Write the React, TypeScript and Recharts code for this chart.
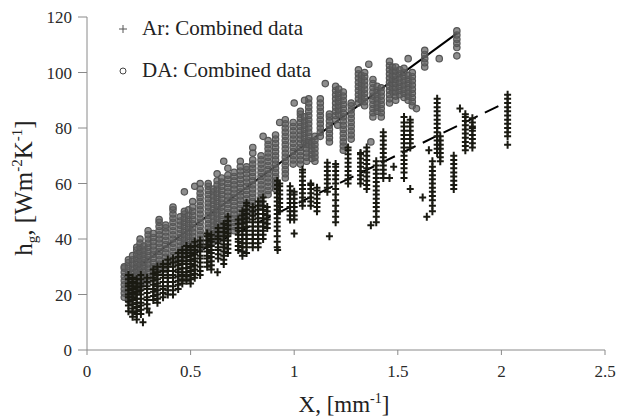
import { ReferenceLine, Scatter, ScatterChart, XAxis, YAxis } from "recharts";

const xTicks = [0, 0.5, 1, 1.5, 2, 2.5];
const yTicks = [0, 20, 40, 60, 80, 100, 120];

// Ar: each column is [x, y values]
const arColumns: Array<[number, number[]]> = [
  [0.2, [14, 16, 17.5, 19, 20, 21.5, 23, 24, 25.5, 27]],
  [0.22, [12, 13.5, 15, 16.5, 18, 19, 20.5, 22, 23, 24.5, 26]],
  [0.24, [11, 13, 14, 15.5, 17, 18.5, 20, 21, 22.5, 24, 25.5]],
  [0.26, [13, 14.5, 16, 17, 18.5, 20, 21.5, 23, 24, 25.5, 27]],
  [0.29, [15, 16.5, 18, 19, 20.5, 22, 23, 24.5, 26]],
  [0.32, [18, 19.5, 21, 22, 23.5, 25, 26, 27.5, 29]],
  [0.34, [17, 18.5, 20, 21.5, 23, 24, 25.5, 27, 28, 30]],
  [0.367, [19, 20.5, 22, 23, 24.5, 26, 27, 28.5, 30, 31]],
  [0.39, [20, 21.5, 23, 24.5, 26, 27, 28.5, 30, 31, 32.5]],
  [0.415, [20, 21.5, 23, 24.5, 26, 27, 28.5, 30, 31.5, 33]],
  [0.44, [22, 23.5, 25, 26.5, 28, 29, 30.5, 32, 33.5, 35]],
  [0.46, [24, 25.5, 27, 28, 29.5, 31, 32, 33.5, 35, 36]],
  [0.48, [25, 26.5, 28, 29.5, 31, 32, 33.5, 35, 36, 37.5]],
  [0.5, [24, 25.5, 27, 28.5, 30, 31, 32.5, 34, 35, 37]],
  [0.52, [26, 27.5, 29, 30.5, 32, 33, 34.5, 36, 37.5, 39]],
  [0.546, [27, 28.5, 30, 31.5, 33, 34, 35.5, 37, 38, 39.5]],
  [0.58, [30, 31.5, 33, 34, 35.5, 37, 38, 39.5, 41, 42]],
  [0.6, [29, 30.5, 32, 33.5, 35, 36, 37.5, 39, 40, 41.5]],
  [0.633, [33, 34.5, 36, 37, 38.5, 40, 41, 42.5, 44]],
  [0.66, [31, 32.5, 34, 35.5, 37, 38, 39.5, 41, 42.5, 44, 45.5]],
  [0.68, [35, 36.5, 38, 39.5, 41, 42, 43.5, 45, 46.5, 48]],
  [0.73, [36, 37.5, 39, 40, 41.5, 43, 44, 45.5, 47]],
  [0.75, [34, 35.5, 37, 38.5, 40, 41.5, 43, 44, 45.5, 47, 48.5, 50]],
  [0.77, [35, 37, 38.5, 40, 41.5, 43, 44.5, 46, 47.5, 49, 50.5, 52, 53]],
  [0.8, [37, 38.5, 40, 41.5, 43, 44.5, 46, 47, 48.5, 50, 51.5]],
  [0.826, [37, 38.5, 40, 41.5, 43, 44.5, 46, 47.5, 49, 50.5, 52, 53.5]],
  [0.85, [40, 41.5, 43, 44.5, 46, 47.5, 49, 50.5, 52, 53.5, 55]],
  [0.87, [44, 45.5, 47, 48.5, 50, 51.5]],
  [0.918, [37, 39, 41, 43, 44.5, 46, 47.5, 49, 50.5, 52, 53.5, 55, 56.5, 58, 59.5, 61]],
  [0.93, [50, 51.5, 53, 54.5, 56, 57.5, 59, 60]],
  [0.98, [47, 48.5, 50, 51.5, 53, 54.5, 56, 57.5, 59]],
  [1.0, [47, 48.5, 50, 51.5, 53, 54.5, 56, 57]],
  [1.04, [52, 53.5, 55, 56.5, 58, 59.5, 61, 62.5, 64, 65]],
  [1.08, [52, 53.5, 55, 56.5, 58, 59.5, 60]],
  [1.11, [50, 51.5, 53, 54.5, 56, 57.5, 58.5]],
  [1.16, [57, 58.5, 60, 61.5, 63, 64.5, 66, 67.5]],
  [1.2, [46, 48, 50, 52, 54, 56, 58, 60, 61.5, 63, 64.5, 66, 67]],
  [1.26, [60, 61.5, 63, 64.5, 66, 67.5, 69, 70.5, 72, 73]],
  [1.32, [60, 61.5, 63, 64.5, 66, 67.5, 69, 70.5, 71]],
  [1.35, [58, 59.5, 61, 62.5, 64, 65.5, 67, 68.5, 70, 71.5, 73]],
  [1.396, [46, 48, 50, 51.5, 53, 54.5, 56, 57.5, 59, 60.5, 62, 63.5, 65, 66.5, 68]],
  [1.43, [62, 63.5, 65, 66.5, 68, 69.5, 71, 72.5, 74, 75.5, 77, 78.5]],
  [1.53, [62, 64, 65.5, 67, 68.5, 70, 71.5, 73, 74.5, 76, 77.5, 79, 80.5, 82, 84]],
  [1.56, [73, 74.5, 76, 77.5, 79, 80.5, 82, 83]],
  [1.667, [50, 52, 54, 55.5, 57, 58.5, 60, 61.5, 63, 64.5, 66, 68]],
  [1.69, [71, 72.5, 74, 75.5, 77, 78.5, 80, 81.5, 83, 84.5, 86, 87.5, 89, 90.5]],
  [1.705, [68, 69.5, 71, 72.5, 74, 75.5, 77]],
  [1.77, [58, 59.5, 61, 62.5, 64, 65.5, 67, 68.5, 70]],
  [1.826, [72, 73.5, 75, 76.5, 78, 79.5, 81, 82.5, 84, 85]],
  [1.86, [73, 74.5, 76, 77.5, 79, 80.5, 82, 83.5]],
  [2.03, [77, 78.5, 80, 81.5, 83, 84.5, 86, 87.5, 89, 90.5, 92]],
];

const arStray: Array<[number, number]> = [
  [0.27, 10], [0.3, 13.5], [0.63, 28], [0.92, 36], [1.0, 42], [1.17, 41], [1.37, 45],
  [1.46, 62], [1.56, 58], [1.62, 55], [1.64, 48], [1.8, 87], [1.86, 80], [2.03, 74],
  [1.48, 66], [1.65, 72],
];

// DA: each column is [x, y values]
const daColumns: Array<[number, number[]]> = [
  [0.18, [19, 20.5, 22, 23.5, 25, 26.5, 28, 29.5, 30]],
  [0.2, [18, 19.5, 21, 22.5, 24, 25.5, 27, 28.5, 30, 31.5, 32.5]],
  [0.22, [19, 20.5, 22, 23.5, 25, 26.5, 28, 29.5, 31, 32.5, 34]],
  [0.24, [21, 22.5, 24, 25.5, 27, 28.5, 30, 31.5, 33, 34.5, 36, 37]],
  [0.256, [22, 23.5, 25, 26.5, 28, 29.5, 31, 32.5, 34, 35.5, 37, 38.5, 40]],
  [0.275, [24, 25.5, 27, 28.5, 30, 31.5, 33, 34.5, 36, 37.5]],
  [0.295, [25, 26.5, 28, 29.5, 31, 32.5, 34, 35.5, 37, 38.5, 40, 41.5, 43]],
  [0.32, [27, 28.5, 30, 31.5, 33, 34.5, 36, 37.5, 39, 40.5, 42]],
  [0.348, [28, 29.5, 31, 32.5, 34, 35.5, 37, 38.5, 40, 41.5, 43, 44.5, 46, 47]],
  [0.38, [29, 30.5, 32, 33.5, 35, 36.5, 38, 39.5, 41, 42.5, 44, 45]],
  [0.415, [31, 32.5, 34, 35.5, 37, 38.5, 40, 41.5, 43, 44.5, 46, 47.5, 49, 50.5, 51.5]],
  [0.45, [33, 34.5, 36, 37.5, 39, 40.5, 42, 43.5, 45, 46.5, 48]],
  [0.47, [34, 35.5, 37, 38.5, 40, 41.5, 43, 44.5, 46, 47.5, 49, 50]],
  [0.49, [35, 36.5, 38, 39.5, 41, 42.5, 44, 45.5, 47, 48.5, 50.5]],
  [0.51, [35, 36.5, 38, 39.5, 41, 42.5, 44, 45.5, 47, 48.5, 50, 51.5, 53.5]],
  [0.546, [37, 38.5, 40, 41.5, 43, 44.5, 46, 47.5, 49, 50.5, 52, 53.5, 55, 56.5, 58, 60]],
  [0.585, [38, 39.5, 41, 42.5, 44, 45.5, 47, 48.5, 50, 51.5, 53, 54.5, 56, 57.5, 59, 60]],
  [0.61, [39, 40.5, 42, 43.5, 45, 46.5, 48, 49.5, 51, 52.5, 54, 55.5, 57, 58]],
  [0.628, [40, 41.5, 43, 44.5, 46, 47.5, 49, 50.5, 52, 53.5, 55, 56.5, 58, 59.5, 61, 63.5]],
  [0.65, [41, 42.5, 44, 45.5, 47, 48.5, 50, 51.5, 53, 54.5, 56, 57.5, 59, 60.5, 62]],
  [0.68, [42, 43.5, 45, 46.5, 48, 49.5, 51, 52.5, 54, 55.5, 57, 58.5, 60, 61.5, 63, 65.5]],
  [0.71, [43, 44.5, 46, 47.5, 49, 50.5, 52, 53.5, 55, 56.5, 58, 59.5, 61, 62.5, 64]],
  [0.74, [45, 46.5, 48, 49.5, 51, 52.5, 54, 55.5, 57, 58.5, 60, 61.5, 63, 64.5, 66, 68]],
  [0.77, [47, 48.5, 50, 51.5, 53, 54.5, 56, 57.5, 59, 60.5, 62, 63.5, 65, 66]],
  [0.8, [49, 50.5, 52, 53.5, 55, 56.5, 58, 59.5, 61, 62.5, 64, 65.5, 67, 68.5, 71]],
  [0.84, [52, 53.5, 55, 56.5, 58, 59.5, 61, 62.5, 64, 65.5, 67, 68.5, 70]],
  [0.874, [56, 57.5, 59, 60.5, 62, 63.5, 65, 66.5, 68, 69.5, 71, 72.5, 74, 75.5]],
  [0.91, [58, 59.5, 61, 62.5, 64, 65.5, 67, 68.5, 70, 71.5, 73, 74.5, 76, 77.5]],
  [0.957, [62, 63.5, 65, 66.5, 68, 69.5, 71, 72.5, 74, 75.5, 77, 78.5, 80, 81.5, 83]],
  [0.995, [67, 68.5, 70, 71.5, 73, 74.5, 76, 77.5, 79, 80.5, 82]],
  [1.03, [67, 68.5, 70, 71.5, 73, 74.5, 76, 77.5, 79, 80.5, 82, 83.5, 85, 86]],
  [1.05, [75, 76.5, 78, 79.5, 81, 82.5, 84]],
  [1.06, [68, 69.5, 71, 72.5, 74]],
  [1.07, [74, 75.5, 77, 78.5, 80, 81.5, 83, 84.5, 86, 87.5, 89, 90.5]],
  [1.085, [69, 70.5, 72, 73.5, 75]],
  [1.1, [68, 69.5, 71, 72.5, 74, 75.5, 77]],
  [1.126, [77, 78.5, 80, 81.5, 83, 84.5, 86, 87.5, 89, 90.5]],
  [1.17, [75, 76.5, 78, 79.5, 81, 82.5, 84, 85]],
  [1.2, [83, 84.5, 86, 87.5, 89, 90.5, 92, 93.5, 95]],
  [1.215, [85, 86.5, 88, 89.5, 91, 92.5, 94]],
  [1.237, [72, 73.5, 75, 76.5, 78, 79.5, 81, 82.5, 84, 85.5, 87, 88.5, 90, 91.5, 93]],
  [1.275, [76, 77.5, 79, 80.5, 82, 83.5, 85, 86.5, 88, 89]],
  [1.31, [89, 90.5, 92, 93.5, 95, 96.5, 98, 99.5, 101]],
  [1.325, [90, 91.5, 93, 94.5, 96, 97.5, 99]],
  [1.34, [88, 89.5, 91, 92.5, 94, 95.5, 97, 98.5, 100]],
  [1.38, [84, 85.5, 87, 88.5, 90, 91.5, 93, 94.5, 96, 97.5]],
  [1.4, [86, 87.5, 89, 90.5, 92, 93.5, 95]],
  [1.42, [84, 85.5, 87, 88.5, 90, 91.5, 93, 94.5]],
  [1.46, [89, 90.5, 92, 93.5, 95, 96.5, 98, 99.5, 101, 102.5, 104]],
  [1.475, [93, 94.5, 96, 97.5, 99, 100.5, 102]],
  [1.49, [90, 91.5, 93, 94.5, 96, 97.5, 99, 100.5, 102]],
  [1.51, [92, 93.5, 95, 96.5, 98, 99.5, 101]],
  [1.53, [91, 92.5, 94, 95.5, 97, 98.5, 100, 101.5]],
  [1.55, [90, 91.5, 93, 94.5, 96, 97.5, 99]],
  [1.57, [88, 89.5, 91, 92.5, 94, 95.5, 97, 98.5, 100]],
  [1.63, [102, 103.5, 105, 106.5, 108]],
  [1.785, [109, 110.5, 112, 113.5, 115]],
];

const daStray: Array<[number, number]> = [
  [0.47, 57], [0.52, 59], [0.66, 68], [0.85, 77], [0.8, 73], [0.93, 82], [1.05, 90],
  [1.15, 96], [1.36, 103], [1.37, 75], [1.55, 105], [1.59, 87], [1.7, 105], [1.785, 106],
  [1.21, 81], [1.0, 89],
];

// trend lines, end points
const daTrend = [{ x: 0.179, y: 26.3 }, { x: 1.787, y: 114.2 }];
const arTrend = [{ x: 0.222, y: 24.1 }, { x: 2.005, y: 88.6 }];

const toPoints = (cols: Array<[number, number[]]>, stray: Array<[number, number]>) => [
  ...cols.flatMap(([x, ys]) => ys.map((y) => ({ x, y }))),
  ...stray.map(([x, y]) => ({ x, y })),
];

const arData = toPoints(arColumns, arStray);
const daData = toPoints(daColumns, daStray);

const AR_COLOR = "#1a1a12";
const DA_COLOR = "#555";
const AXIS_COLOR = "#8a8a8a";
const FONT = "'Liberation Serif', 'Times New Roman', serif";
const TICK = { fontFamily: FONT, fontSize: 17, fill: "#2a2a2a" };

const Plus = (props: any) => {
  const { cx, cy } = props;
  if (cx == null || cy == null) return null;
  return (
    <path
      d={`M${cx - 3.5},${cy}H${cx + 3.5}M${cx},${cy - 4}V${cy + 4}`}
      stroke={AR_COLOR}
      strokeWidth={2}
      fill="none"
    />
  );
};

const Ring = (props: any) => {
  const { cx, cy } = props;
  if (cx == null || cy == null) return null;
  return (
    <circle
      cx={cx}
      cy={cy}
      r={3.2}
      stroke={DA_COLOR}
      strokeWidth={1.2}
      fill="#5e5e5e"
      fillOpacity={0.7}
    />
  );
};

export default function App() {
  return (
    <div style={{ position: "absolute", left: 0, top: 0, width: 617, height: 418, background: "#fff" }}>
      <ScatterChart width={617} height={418} margin={{ top: 17, right: 12, bottom: 0, left: 0 }}>
        <XAxis
          type="number"
          dataKey="x"
          domain={[0, 2.5]}
          ticks={xTicks}
          height={68}
          tickSize={5}
          tickMargin={10}
          tick={TICK}
          stroke={AXIS_COLOR}
          tickLine={{ stroke: AXIS_COLOR }}
        />
        <YAxis
          type="number"
          dataKey="y"
          domain={[0, 120]}
          ticks={yTicks}
          width={87}
          tickSize={9}
          tickMargin={6}
          tick={TICK}
          stroke={AXIS_COLOR}
          tickLine={{ stroke: AXIS_COLOR }}
        />
        <Scatter name="DA: Combined data" data={daData} shape={Ring} isAnimationActive={false} />
        <Scatter name="Ar: Combined data" data={arData} shape={Plus} isAnimationActive={false} />
        <ReferenceLine segment={daTrend} stroke="#000" strokeWidth={2} ifOverflow="visible" />
        <ReferenceLine
          segment={arTrend}
          stroke="#000"
          strokeWidth={2}
          strokeDasharray="15 8"
          ifOverflow="visible"
        />
      </ScatterChart>
      <svg
        width={617}
        height={418}
        style={{ position: "absolute", left: 0, top: 0, pointerEvents: "none" }}
        fontFamily={FONT}
        fill="#222"
      >
        <path d="M119,29H127M123,25V33" stroke="#555" strokeWidth={1} />
        <text x={142} y={35} fontSize={21}>Ar: Combined data</text>
        <circle cx={123} cy={71} r={3} stroke="#444" strokeWidth={1} fill="none" />
        <text x={142} y={77} fontSize={21}>DA: Combined data</text>
        <text x={344} y={412} fontSize={23} textAnchor="middle">
          X, [mm<tspan dy={-9} fontSize={14}>-1</tspan><tspan dy={9}>]</tspan>
        </text>
        <text x={32} y={188} fontSize={25} textAnchor="middle" transform="rotate(-90 32 188)">
          h<tspan dy={5} fontSize={15}>g</tspan><tspan dy={-5}>, [Wm</tspan>
          <tspan dy={-10} fontSize={15}>-2</tspan><tspan dy={10}>K</tspan>
          <tspan dy={-10} fontSize={15}>-1</tspan><tspan dy={10}>]</tspan>
        </text>
      </svg>
    </div>
  );
}
